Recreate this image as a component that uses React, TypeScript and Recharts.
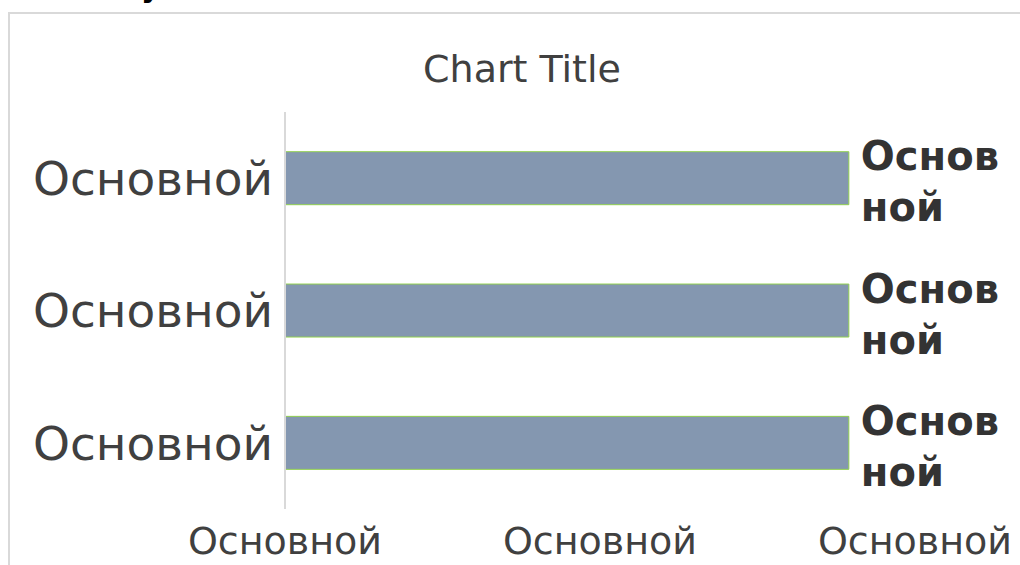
import React from 'react';
import { BarChart, Bar, XAxis, YAxis, LabelList } from 'recharts';

// placeholder chart copied from a spreadsheet template
const categories = ['row1', 'row2', 'row3'];
const categoryLabels = ['Основной', 'Основной', 'Основной'];
const values = [1.79, 1.79, 1.79];
const barLabels = ['Основной', 'Основной', 'Основной'];
const xTicks = [0, 1, 2];
const xTickLabels = ['Основной', 'Основной', 'Основной'];

const data = categories.map((key, i) => ({
  key,
  value: values[i],
  label: barLabels[i],
}));

const font = '"DejaVu Sans", Verdana, sans-serif';

const BarLabel = (props: any) => {
  const { x, y, width, height, value } = props;
  const text = String(value);
  const first = text.slice(0, 5);
  const rest = text.slice(5);
  const cx = x + width + 12;
  const cy = y + height / 2;
  return (
    <text
      x={cx}
      y={cy - 8}
      fill="#333333"
      fontFamily={font}
      fontWeight="bold"
      fontSize={40}
    >
      <tspan x={cx}>{first}</tspan>
      <tspan x={cx} dy={51}>
        {rest}
      </tspan>
    </text>
  );
};

const App = () => {
  return (
    <div
      style={{
        position: 'fixed',
        left: 0,
        top: 0,
        width: 1020,
        height: 565,
        overflow: 'hidden',
        background: '#fff',
      }}
    >
      <div
        style={{
          position: 'absolute',
          left: 8,
          top: 12,
          width: 1100,
          height: 700,
          borderTop: '2px solid #d9d9d9',
          borderLeft: '2px solid #d9d9d9',
        }}
      />
      <svg
        width={1020}
        height={565}
        style={{ position: 'absolute', left: 0, top: 0 }}
      >
        <text
          x={141}
          y={-3}
          fontFamily={font}
          fontWeight="bold"
          fontSize={30}
          fill="#000"
        >
          y
        </text>
        <text
          x={522}
          y={82}
          textAnchor="middle"
          fontFamily={font}
          fontSize={38}
          fill="#404040"
        >
          Chart Title
        </text>
      </svg>
      <div style={{ position: 'absolute', left: 0, top: 0 }}>
        <BarChart
          width={1020}
          height={565}
          data={data}
          layout="vertical"
          margin={{ top: 112, right: 105, bottom: 0, left: 0 }}
          barCategoryGap="30%"
        >
          <XAxis
            type="number"
            domain={[0, 2]}
            ticks={xTicks}
            axisLine={false}
            tickLine={false}
            tickSize={0}
            tickMargin={18}
            height={56}
            interval={0}
            tickFormatter={(v: number) => xTickLabels[xTicks.indexOf(v)]}
            tick={{ fill: '#404040', fontSize: 38, fontFamily: font }}
          />
          <YAxis
            type="category"
            dataKey="key"
            width={285}
            axisLine={{ stroke: '#d9d9d9', strokeWidth: 2 }}
            tickLine={false}
            tickSize={0}
            tickMargin={12}
            interval={0}
            tickFormatter={(v: string) => categoryLabels[categories.indexOf(v)]}
            tick={{ fill: '#404040', fontSize: 47, fontFamily: font }}
          />
          <Bar
            dataKey="value"
            fill="#8497B0"
            stroke="#92D050"
            strokeWidth={1}
            isAnimationActive={false}
          >
            <LabelList dataKey="label" content={BarLabel} />
          </Bar>
        </BarChart>
      </div>
    </div>
  );
};

export default App;
